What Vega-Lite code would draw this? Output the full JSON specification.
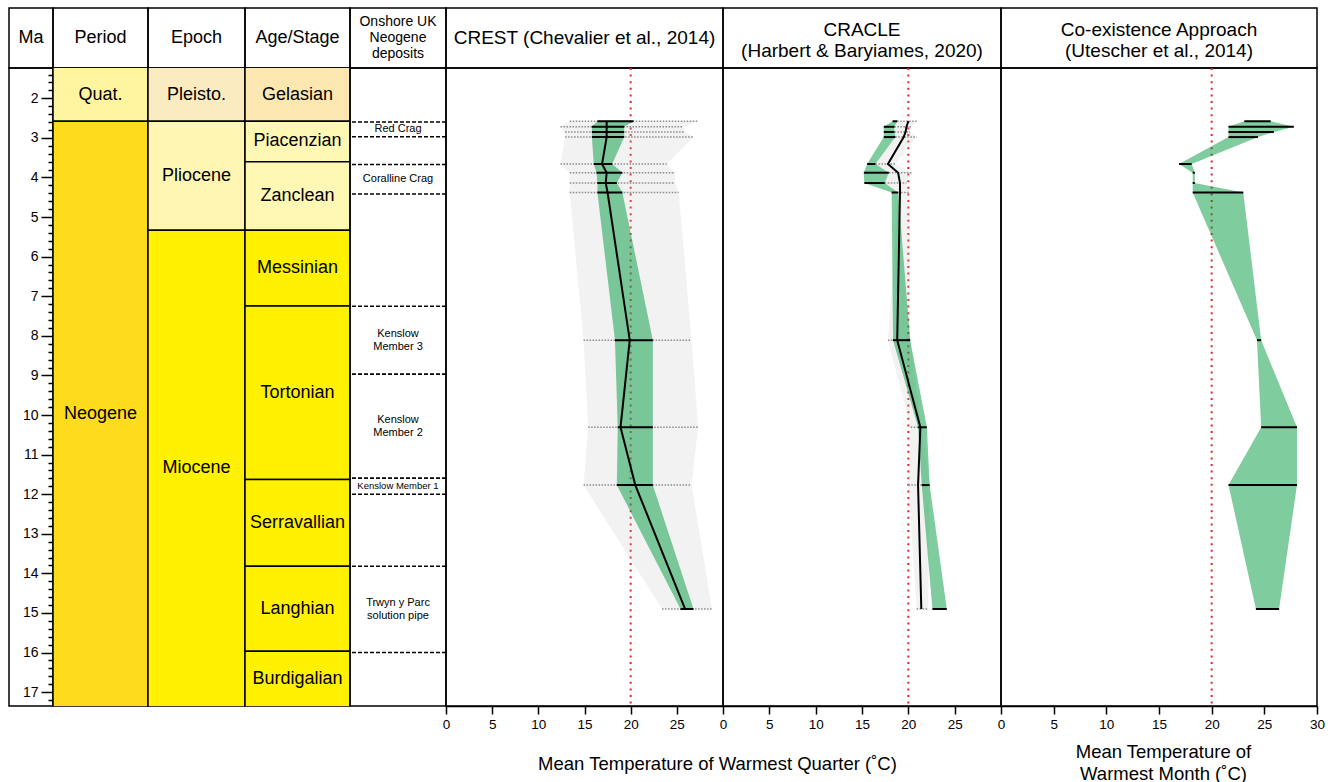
{
  "$schema": "https://vega.github.io/schema/vega-lite/v6.json",
  "background": "white",
  "padding": {"left": 8, "top": 7, "right": 0, "bottom": 0},
  "columns": 8,
  "spacing": 0,
  "align": "each",
  "bounds": "flush",
  "config": {
    "font": "Liberation Sans",
    "view": {"stroke": "#000000", "strokeWidth": 1.5},
    "axis": {"domainColor": "#000000", "tickColor": "#000000", "labelColor": "#000000", "titleColor": "#000000", "domainWidth": 1.5, "tickWidth": 1.5, "grid": false, "labelFont": "Liberation Sans", "titleFont": "Liberation Sans", "titleFontWeight": "normal"},
    "text": {"font": "Liberation Sans", "color": "#000000"}
  },
  "datasets": {
    "geo": [
      {"col": "Period", "name": "Quat.", "start": 0, "end": 2.58},
      {"col": "Period", "name": "Neogene", "start": 2.58, "end": 23.03},
      {"col": "Epoch", "name": "Pleisto.", "start": 0, "end": 2.58},
      {"col": "Epoch", "name": "Pliocene", "start": 2.58, "end": 5.333},
      {"col": "Epoch", "name": "Miocene", "start": 5.333, "end": 23.03},
      {"col": "Stage", "name": "Gelasian", "start": 0, "end": 2.58},
      {"col": "Stage", "name": "Piacenzian", "start": 2.58, "end": 3.6},
      {"col": "Stage", "name": "Zanclean", "start": 3.6, "end": 5.333},
      {"col": "Stage", "name": "Messinian", "start": 5.333, "end": 7.246},
      {"col": "Stage", "name": "Tortonian", "start": 7.246, "end": 11.63},
      {"col": "Stage", "name": "Serravallian", "start": 11.63, "end": 13.82},
      {"col": "Stage", "name": "Langhian", "start": 13.82, "end": 15.97},
      {"col": "Stage", "name": "Burdigalian", "start": 15.97, "end": 20.44}
    ],
    "deposits": [
      {"label": "Red Crag", "lines": 1, "top": 2.6, "base": 2.97},
      {"label": "Coralline Crag", "lines": 1, "top": 3.67, "base": 4.42},
      {"label": "Kenslow\nMember 3", "lines": 2, "top": 7.25, "base": 8.97},
      {"label": "Kenslow\nMember 2", "lines": 2, "top": 8.97, "base": 11.6},
      {"label": "Kenslow Member 1", "lines": 1, "top": 11.6, "base": 12.0},
      {"label": "Trwyn y Parc\nsolution pipe", "lines": 2, "top": 13.82, "base": 16.0}
    ],
    "samples": [
      {"method": "CREST", "ma": 2.58, "lo95": 13.4, "lo50": 16.4, "mean": 17.4, "hi50": 20.3, "hi95": 27.2},
      {"method": "CREST", "ma": 2.72, "lo95": 12.4, "lo50": 15.8, "mean": 17.4, "hi50": 19.3, "hi95": 25.7},
      {"method": "CREST", "ma": 2.85, "lo95": 12.9, "lo50": 15.8, "mean": 17.4, "hi50": 19.3, "hi95": 25.9},
      {"method": "CREST", "ma": 2.98, "lo95": 12.9, "lo50": 15.8, "mean": 17.4, "hi50": 19.3, "hi95": 26.8},
      {"method": "CREST", "ma": 3.66, "lo95": 12.4, "lo50": 16.0, "mean": 16.9, "hi50": 18.0, "hi95": 23.9},
      {"method": "CREST", "ma": 3.88, "lo95": 13.4, "lo50": 16.3, "mean": 17.4, "hi50": 19.1, "hi95": 24.8},
      {"method": "CREST", "ma": 4.14, "lo95": 13.4, "lo50": 16.4, "mean": 17.3, "hi50": 18.5, "hi95": 24.8},
      {"method": "CREST", "ma": 4.38, "lo95": 13.4, "lo50": 16.4, "mean": 17.5, "hi50": 19.1, "hi95": 25.2},
      {"method": "CREST", "ma": 8.11, "lo95": 14.9, "lo50": 18.3, "mean": 19.9, "hi50": 22.4, "hi95": 26.6},
      {"method": "CREST", "ma": 10.31, "lo95": 15.4, "lo50": 18.6, "mean": 18.9, "hi50": 22.4, "hi95": 27.3},
      {"method": "CREST", "ma": 11.77, "lo95": 14.9, "lo50": 18.5, "mean": 20.5, "hi50": 22.4, "hi95": 26.6},
      {"method": "CREST", "ma": 14.9, "lo95": 23.4, "lo50": 25.4, "mean": 25.9, "hi50": 26.8, "hi95": 28.8},
      {"method": "CRACLE", "ma": 2.58, "lo95": 18.8, "lo50": 18.3, "mean": 20.0, "hi50": 18.8, "hi95": 21.0},
      {"method": "CRACLE", "ma": 2.72, "lo95": 18.5, "lo50": 17.35, "mean": 19.8, "hi50": 18.5, "hi95": 20.3},
      {"method": "CRACLE", "ma": 2.85, "lo95": 18.5, "lo50": 17.35, "mean": 19.7, "hi50": 18.5, "hi95": 20.2},
      {"method": "CRACLE", "ma": 2.98, "lo95": 18.6, "lo50": 17.35, "mean": 19.5, "hi50": 18.6, "hi95": 20.9},
      {"method": "CRACLE", "ma": 3.66, "lo95": 16.45, "lo50": 15.55, "mean": 17.8, "hi50": 16.45, "hi95": 18.6},
      {"method": "CRACLE", "ma": 3.88, "lo95": 17.9, "lo50": 15.2, "mean": 18.9, "hi50": 17.9, "hi95": 20.45},
      {"method": "CRACLE", "ma": 4.14, "lo95": 17.45, "lo50": 15.25, "mean": 19.1, "hi50": 17.45, "hi95": 19.8},
      {"method": "CRACLE", "ma": 4.38, "lo95": 18.9, "lo50": 18.2, "mean": 19.1, "hi50": 18.9, "hi95": 20.15},
      {"method": "CRACLE", "ma": 8.11, "lo95": 17.8, "lo50": 18.35, "mean": 18.8, "hi50": 20.2, "hi95": 20.2},
      {"method": "CRACLE", "ma": 10.31, "lo95": 20.25, "lo50": 21.05, "mean": 21.3, "hi50": 22.0, "hi95": 21.4},
      {"method": "CRACLE", "ma": 11.77, "lo95": 20.0, "lo50": 21.45, "mean": 21.05, "hi50": 22.3, "hi95": 22.3},
      {"method": "CRACLE", "ma": 14.9, "lo95": 20.9, "lo50": 22.6, "mean": 21.4, "hi50": 24.15, "hi95": 22.15},
      {"method": "CoA", "ma": 2.58, "lo50": 23.1, "hi50": 25.6},
      {"method": "CoA", "ma": 2.72, "lo50": 21.6, "hi50": 27.8},
      {"method": "CoA", "ma": 2.85, "lo50": 21.6, "hi50": 25.9},
      {"method": "CoA", "ma": 2.98, "lo50": 21.6, "hi50": 24.4},
      {"method": "CoA", "ma": 3.66, "lo50": 16.9, "hi50": 18.1},
      {"method": "CoA", "ma": 3.88, "lo50": 18.2, "hi50": 18.4},
      {"method": "CoA", "ma": 4.14, "lo50": 18.2, "hi50": 18.4},
      {"method": "CoA", "ma": 4.38, "lo50": 18.2, "hi50": 23.0},
      {"method": "CoA", "ma": 8.11, "lo50": 24.3, "hi50": 24.7},
      {"method": "CoA", "ma": 10.31, "lo50": 24.7, "hi50": 28.1},
      {"method": "CoA", "ma": 11.77, "lo50": 21.6, "hi50": 28.1},
      {"method": "CoA", "ma": 14.9, "lo50": 24.2, "hi50": 26.4}
    ]
  },
  "concat": [
    {"width": 44, "height": 60, "data": {"values": [{"t": "Ma"}]}, "mark": {"type": "text", "fontSize": 18},
     "encoding": {"text": {"field": "t"}, "x": {"datum": 0.5, "type": "quantitative", "scale": {"domain": [0, 1]}, "axis": null}, "y": {"datum": 0.5, "type": "quantitative", "scale": {"domain": [0, 1]}, "axis": null}}},
    {"width": 95, "height": 60, "data": {"values": [{"t": "Period"}]}, "mark": {"type": "text", "fontSize": 18},
     "encoding": {"text": {"field": "t"}, "x": {"datum": 0.5, "type": "quantitative", "scale": {"domain": [0, 1]}, "axis": null}, "y": {"datum": 0.5, "type": "quantitative", "scale": {"domain": [0, 1]}, "axis": null}}},
    {"width": 97, "height": 60, "data": {"values": [{"t": "Epoch"}]}, "mark": {"type": "text", "fontSize": 18},
     "encoding": {"text": {"field": "t"}, "x": {"datum": 0.5, "type": "quantitative", "scale": {"domain": [0, 1]}, "axis": null}, "y": {"datum": 0.5, "type": "quantitative", "scale": {"domain": [0, 1]}, "axis": null}}},
    {"width": 105, "height": 60, "data": {"values": [{"t": "Age/Stage"}]}, "mark": {"type": "text", "fontSize": 18},
     "encoding": {"text": {"field": "t"}, "x": {"datum": 0.5, "type": "quantitative", "scale": {"domain": [0, 1]}, "axis": null}, "y": {"datum": 0.5, "type": "quantitative", "scale": {"domain": [0, 1]}, "axis": null}}},
    {"width": 96, "height": 60, "data": {"values": [{"t": "Onshore UK\nNeogene\ndeposits"}]}, "mark": {"type": "text", "fontSize": 14, "lineHeight": 16, "lineBreak": "\n", "dy": -16},
     "encoding": {"text": {"field": "t"}, "x": {"datum": 0.5, "type": "quantitative", "scale": {"domain": [0, 1]}, "axis": null}, "y": {"datum": 0.5, "type": "quantitative", "scale": {"domain": [0, 1]}, "axis": null}}},
    {"width": 277, "height": 60, "data": {"values": [{"t": "CREST (Chevalier et al., 2014)"}]}, "mark": {"type": "text", "fontSize": 19},
     "encoding": {"text": {"field": "t"}, "x": {"datum": 0.5, "type": "quantitative", "scale": {"domain": [0, 1]}, "axis": null}, "y": {"datum": 0.5, "type": "quantitative", "scale": {"domain": [0, 1]}, "axis": null}}},
    {"width": 278, "height": 60, "data": {"values": [{"t": "CRACLE\n(Harbert & Baryiames, 2020)"}]}, "mark": {"type": "text", "fontSize": 19, "lineHeight": 21, "lineBreak": "\n", "dy": -8},
     "encoding": {"text": {"field": "t"}, "x": {"datum": 0.5, "type": "quantitative", "scale": {"domain": [0, 1]}, "axis": null}, "y": {"datum": 0.5, "type": "quantitative", "scale": {"domain": [0, 1]}, "axis": null}}},
    {"width": 316, "height": 60, "data": {"values": [{"t": "Co-existence Approach\n(Utescher et al., 2014)"}]}, "mark": {"type": "text", "fontSize": 19, "lineHeight": 21, "lineBreak": "\n", "dy": -8},
     "encoding": {"text": {"field": "t"}, "x": {"datum": 0.5, "type": "quantitative", "scale": {"domain": [0, 1]}, "axis": null}, "y": {"datum": 0.5, "type": "quantitative", "scale": {"domain": [0, 1]}, "axis": null}}},

    {"width": 44, "height": 638, "data": {"values": [{}]}, "mark": {"type": "text", "text": " "},
     "encoding": {"x": {"datum": 0.5, "type": "quantitative", "scale": {"domain": [0, 1]}, "axis": null}, "y": {"datum": 0.5, "type": "quantitative", "scale": {"domain": [0, 1]}, "axis": null}}},

    {"width": 95, "height": 638,
     "data": {"name": "geo"},
     "transform": [{"filter": "datum.col === 'Period'"}, {"calculate": "(max(datum.start, 1.235) + min(datum.end, 17.35)) / 2", "as": "mid"}],
     "layer": [
       {"mark": {"type": "rect", "stroke": "#000000", "strokeWidth": 1.5, "clip": true},
        "encoding": {
          "y": {"field": "start", "type": "quantitative", "scale": {"domain": [1.235, 17.35], "reverse": true, "nice": false, "zero": false},
                "axis": {"orient": "left", "values": [2,3,4,5,6,7,8,9,10,11,12,13,14,15,16,17], "tickSize": 12, "labelPadding": 3, "labelFontSize": 14, "domain": false, "title": null}},
          "y2": {"field": "end"},
          "x": {"datum": 0, "type": "quantitative", "scale": {"domain": [0, 1], "nice": false}, "axis": null},
          "x2": {"datum": 1},
          "color": {"field": "name", "type": "nominal", "legend": null,
                    "scale": {"domain": ["Quat.", "Neogene", "Pleisto.", "Pliocene", "Miocene", "Gelasian", "Piacenzian", "Zanclean", "Messinian", "Tortonian", "Serravallian", "Langhian", "Burdigalian"],
                              "range": ["#FFF5A0", "#FDDC1E", "#FBEBC0", "#FFF6B4", "#FFF100", "#FDE7B0", "#FFF8B4", "#FFF8B4", "#FFF100", "#FFF100", "#FFF100", "#FFF100", "#FFF100"]}}
        }},
       {"mark": {"type": "text", "fontSize": 18},
        "encoding": {
          "y": {"field": "mid", "type": "quantitative", "scale": {"domain": [1.235, 17.35], "reverse": true, "nice": false, "zero": false},
                "axis": {"orient": "left", "values": [1.4,1.6,1.8,2.2,2.4,2.6,2.8,3.2,3.4,3.6,3.8,4.2,4.4,4.6,4.8,5.2,5.4,5.6,5.8,6.2,6.4,6.6,6.8,7.2,7.4,7.6,7.8,8.2,8.4,8.6,8.8,9.2,9.4,9.6,9.8,10.2,10.4,10.6,10.8,11.2,11.4,11.6,11.8,12.2,12.4,12.6,12.8,13.2,13.4,13.6,13.8,14.2,14.4,14.6,14.8,15.2,15.4,15.6,15.8,16.2,16.4,16.6,16.8,17.2], "tickSize": 5, "labels": false, "domain": false, "title": null}},
          "text": {"field": "name"}
        }}
     ],
     "resolve": {"axis": {"y": "independent"}}
    },

    {"width": 97, "height": 638,
     "data": {"name": "geo"},
     "transform": [{"filter": "datum.col === 'Epoch'"}, {"calculate": "(max(datum.start, 1.235) + min(datum.end, 17.35)) / 2", "as": "mid"}],
     "layer": [
       {"mark": {"type": "rect", "stroke": "#000000", "strokeWidth": 1.5, "clip": true},
        "encoding": {
          "y": {"field": "start", "type": "quantitative", "scale": {"domain": [1.235, 17.35], "reverse": true, "nice": false, "zero": false}, "axis": null},
          "y2": {"field": "end"},
          "x": {"datum": 0, "type": "quantitative", "scale": {"domain": [0, 1], "nice": false}, "axis": null},
          "x2": {"datum": 1},
          "color": {"field": "name", "type": "nominal", "legend": null,
                    "scale": {"domain": ["Quat.", "Neogene", "Pleisto.", "Pliocene", "Miocene", "Gelasian", "Piacenzian", "Zanclean", "Messinian", "Tortonian", "Serravallian", "Langhian", "Burdigalian"],
                              "range": ["#FFF5A0", "#FDDC1E", "#FBEBC0", "#FFF6B4", "#FFF100", "#FDE7B0", "#FFF8B4", "#FFF8B4", "#FFF100", "#FFF100", "#FFF100", "#FFF100", "#FFF100"]}}
        }},
       {"mark": {"type": "text", "fontSize": 18},
        "encoding": {
          "y": {"field": "mid", "type": "quantitative", "scale": {"domain": [1.235, 17.35], "reverse": true, "nice": false, "zero": false}, "axis": null},
          "text": {"field": "name"}
        }}
     ]
    },

    {"width": 105, "height": 638,
     "data": {"name": "geo"},
     "transform": [{"filter": "datum.col === 'Stage'"}, {"calculate": "(max(datum.start, 1.235) + min(datum.end, 17.35)) / 2", "as": "mid"}],
     "layer": [
       {"mark": {"type": "rect", "stroke": "#000000", "strokeWidth": 1.5, "clip": true},
        "encoding": {
          "y": {"field": "start", "type": "quantitative", "scale": {"domain": [1.235, 17.35], "reverse": true, "nice": false, "zero": false}, "axis": null},
          "y2": {"field": "end"},
          "x": {"datum": 0, "type": "quantitative", "scale": {"domain": [0, 1], "nice": false}, "axis": null},
          "x2": {"datum": 1},
          "color": {"field": "name", "type": "nominal", "legend": null,
                    "scale": {"domain": ["Quat.", "Neogene", "Pleisto.", "Pliocene", "Miocene", "Gelasian", "Piacenzian", "Zanclean", "Messinian", "Tortonian", "Serravallian", "Langhian", "Burdigalian"],
                              "range": ["#FFF5A0", "#FDDC1E", "#FBEBC0", "#FFF6B4", "#FFF100", "#FDE7B0", "#FFF8B4", "#FFF8B4", "#FFF100", "#FFF100", "#FFF100", "#FFF100", "#FFF100"]}}
        }},
       {"mark": {"type": "text", "fontSize": 18},
        "encoding": {
          "y": {"field": "mid", "type": "quantitative", "scale": {"domain": [1.235, 17.35], "reverse": true, "nice": false, "zero": false}, "axis": null},
          "text": {"field": "name"}
        }}
     ]
    },

    {"width": 96, "height": 638,
     "data": {"name": "deposits"},
     "transform": [{"calculate": "(datum.top + datum.base) / 2", "as": "mid"}],
     "layer": [
       {"mark": {"type": "rule", "color": "#000000", "strokeWidth": 1.5, "strokeDash": [4, 2]},
        "encoding": {"y": {"field": "top", "type": "quantitative", "scale": {"domain": [1.235, 17.35], "reverse": true, "nice": false, "zero": false}, "axis": null}}},
       {"mark": {"type": "rule", "color": "#000000", "strokeWidth": 1.5, "strokeDash": [4, 2]},
        "encoding": {"y": {"field": "base", "type": "quantitative", "scale": {"domain": [1.235, 17.35], "reverse": true, "nice": false, "zero": false}, "axis": null}}},
       {"transform": [{"filter": "datum.lines === 1"}],
        "mark": {"type": "text"},
        "encoding": {
          "y": {"field": "mid", "type": "quantitative", "scale": {"domain": [1.235, 17.35], "reverse": true, "nice": false, "zero": false}, "axis": null},
          "text": {"field": "label"},
          "size": {"condition": {"test": "datum.label === 'Kenslow Member 1'", "value": 9.5}, "value": 11}
        }},
       {"transform": [{"filter": "datum.lines === 2"}],
        "mark": {"type": "text", "lineBreak": "\n", "lineHeight": 13, "dy": -6.5, "fontSize": 11},
        "encoding": {
          "y": {"field": "mid", "type": "quantitative", "scale": {"domain": [1.235, 17.35], "reverse": true, "nice": false, "zero": false}, "axis": null},
          "text": {"field": "label"}
        }}
     ]
    },

    {"width": 277, "height": 638,
     "data": {"name": "samples"},
     "transform": [{"filter": "datum.method === 'CREST'"}],
     "layer": [
       {"data": {"values": [{}]},
        "mark": {"type": "rule", "color": "#E3262B", "strokeWidth": 2, "strokeDash": [2, 4.6]},
        "encoding": {"x": {"datum": 20, "type": "quantitative", "scale": {"domain": [0, 30], "nice": false, "zero": false},
                "axis": {"values": [0, 5, 10, 15, 20, 25], "tickSize": 8, "labelFontSize": 13.5, "labelPadding": 3, "labelFlush": false, "labelOverlap": false,
                         "title": "Mean Temperature of Warmest Quarter (˚C)", "titleFontSize": 18.5, "titleX": 271, "titleY": 57, "titleBaseline": "middle", "titleAlign": "center"}}}},
       {"mark": {"type": "area", "orient": "horizontal", "color": "#BDBDBD", "opacity": 0.2},
        "encoding": {
          "y": {"field": "ma", "type": "quantitative", "scale": {"domain": [1.235, 17.35], "reverse": true, "nice": false, "zero": false}, "axis": null},
          "x": {"field": "lo95", "type": "quantitative", "scale": {"domain": [0, 30], "nice": false, "zero": false}},
          "x2": {"field": "hi95"}
        }},
       {"mark": {"type": "area", "orient": "horizontal", "color": "#009A3E", "opacity": 0.5},
        "encoding": {
          "y": {"field": "ma", "type": "quantitative", "scale": {"domain": [1.235, 17.35], "reverse": true, "nice": false, "zero": false}, "axis": null},
          "x": {"field": "lo50", "type": "quantitative", "scale": {"domain": [0, 30], "nice": false, "zero": false}},
          "x2": {"field": "hi50"}
        }},
       {"mark": {"type": "rule", "color": "#8C8C8C", "strokeWidth": 1.5, "strokeDash": [1.5, 1.5]},
        "encoding": {
          "y": {"field": "ma", "type": "quantitative", "scale": {"domain": [1.235, 17.35], "reverse": true, "nice": false, "zero": false}, "axis": null},
          "x": {"field": "lo95", "type": "quantitative", "scale": {"domain": [0, 30], "nice": false, "zero": false}},
          "x2": {"field": "hi95"}
        }},
       {"mark": {"type": "rule", "color": "#000000", "strokeWidth": 2},
        "encoding": {
          "y": {"field": "ma", "type": "quantitative", "scale": {"domain": [1.235, 17.35], "reverse": true, "nice": false, "zero": false}, "axis": null},
          "x": {"field": "lo50", "type": "quantitative", "scale": {"domain": [0, 30], "nice": false, "zero": false}},
          "x2": {"field": "hi50"}
        }},
       {"mark": {"type": "line", "color": "#000000", "strokeWidth": 2},
        "encoding": {
          "y": {"field": "ma", "type": "quantitative", "scale": {"domain": [1.235, 17.35], "reverse": true, "nice": false, "zero": false}, "axis": null},
          "x": {"field": "mean", "type": "quantitative", "scale": {"domain": [0, 30], "nice": false, "zero": false}},
          "order": {"field": "ma", "type": "quantitative"}
        }}
     ]
    },

    {"width": 278, "height": 638,
     "data": {"name": "samples"},
     "transform": [{"filter": "datum.method === 'CRACLE'"}],
     "layer": [
       {"data": {"values": [{}]},
        "mark": {"type": "rule", "color": "#E3262B", "strokeWidth": 2, "strokeDash": [2, 4.6]},
        "encoding": {"x": {"datum": 20, "type": "quantitative", "scale": {"domain": [0, 30], "nice": false, "zero": false},
                "axis": {"values": [0, 5, 10, 15, 20, 25], "tickSize": 8, "labelFontSize": 13.5, "labelPadding": 3, "labelFlush": false, "labelOverlap": false, "title": null}}}},
       {"mark": {"type": "area", "orient": "horizontal", "color": "#BDBDBD", "opacity": 0.2},
        "encoding": {
          "y": {"field": "ma", "type": "quantitative", "scale": {"domain": [1.235, 17.35], "reverse": true, "nice": false, "zero": false}, "axis": null},
          "x": {"field": "lo95", "type": "quantitative", "scale": {"domain": [0, 30], "nice": false, "zero": false}},
          "x2": {"field": "hi95"}
        }},
       {"mark": {"type": "area", "orient": "horizontal", "color": "#009A3E", "opacity": 0.5},
        "encoding": {
          "y": {"field": "ma", "type": "quantitative", "scale": {"domain": [1.235, 17.35], "reverse": true, "nice": false, "zero": false}, "axis": null},
          "x": {"field": "lo50", "type": "quantitative", "scale": {"domain": [0, 30], "nice": false, "zero": false}},
          "x2": {"field": "hi50"}
        }},
       {"mark": {"type": "rule", "color": "#8C8C8C", "strokeWidth": 1.5, "strokeDash": [1.5, 1.5]},
        "encoding": {
          "y": {"field": "ma", "type": "quantitative", "scale": {"domain": [1.235, 17.35], "reverse": true, "nice": false, "zero": false}, "axis": null},
          "x": {"field": "lo95", "type": "quantitative", "scale": {"domain": [0, 30], "nice": false, "zero": false}},
          "x2": {"field": "hi95"}
        }},
       {"mark": {"type": "rule", "color": "#000000", "strokeWidth": 2},
        "encoding": {
          "y": {"field": "ma", "type": "quantitative", "scale": {"domain": [1.235, 17.35], "reverse": true, "nice": false, "zero": false}, "axis": null},
          "x": {"field": "lo50", "type": "quantitative", "scale": {"domain": [0, 30], "nice": false, "zero": false}},
          "x2": {"field": "hi50"}
        }},
       {"mark": {"type": "line", "color": "#000000", "strokeWidth": 2},
        "encoding": {
          "y": {"field": "ma", "type": "quantitative", "scale": {"domain": [1.235, 17.35], "reverse": true, "nice": false, "zero": false}, "axis": null},
          "x": {"field": "mean", "type": "quantitative", "scale": {"domain": [0, 30], "nice": false, "zero": false}},
          "order": {"field": "ma", "type": "quantitative"}
        }}
     ]
    },

    {"width": 316, "height": 638,
     "data": {"name": "samples"},
     "transform": [{"filter": "datum.method === 'CoA'"}],
     "layer": [
       {"data": {"values": [{}]},
        "mark": {"type": "rule", "color": "#E3262B", "strokeWidth": 2, "strokeDash": [2, 4.6]},
        "encoding": {"x": {"datum": 20, "type": "quantitative", "scale": {"domain": [0, 30], "nice": false, "zero": false},
                "axis": {"values": [0, 5, 10, 15, 20, 25, 30], "tickSize": 8, "labelFontSize": 13.5, "labelPadding": 3, "labelFlush": false, "labelOverlap": false,
                         "title": ["Mean Temperature of", "Warmest Month (˚C)"], "titleFontSize": 18.5, "titleLineHeight": 22, "titleX": 162, "titleY": 45, "titleBaseline": "middle", "titleAlign": "center"}}}},
       {"mark": {"type": "area", "orient": "horizontal", "color": "#009A3E", "opacity": 0.5},
        "encoding": {
          "y": {"field": "ma", "type": "quantitative", "scale": {"domain": [1.235, 17.35], "reverse": true, "nice": false, "zero": false}, "axis": null},
          "x": {"field": "lo50", "type": "quantitative", "scale": {"domain": [0, 30], "nice": false, "zero": false}},
          "x2": {"field": "hi50"}
        }},
       {"mark": {"type": "rule", "color": "#000000", "strokeWidth": 2},
        "encoding": {
          "y": {"field": "ma", "type": "quantitative", "scale": {"domain": [1.235, 17.35], "reverse": true, "nice": false, "zero": false}, "axis": null},
          "x": {"field": "lo50", "type": "quantitative", "scale": {"domain": [0, 30], "nice": false, "zero": false}},
          "x2": {"field": "hi50"}
        }}
     ]
    }
  ]
}
